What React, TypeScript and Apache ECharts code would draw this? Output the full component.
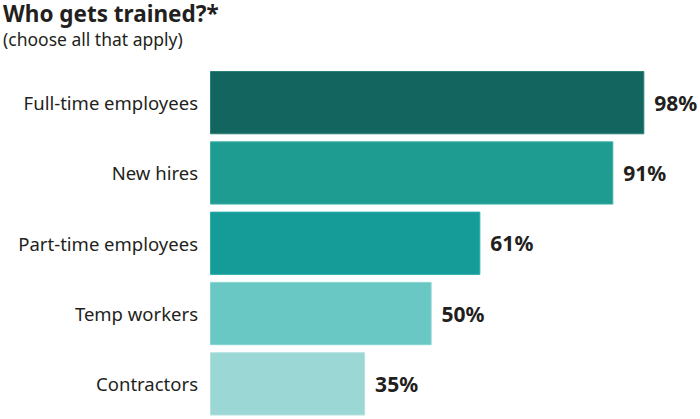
import React, { useEffect, useRef } from "react";
import * as echarts from "echarts";

const categories = ["Full-time employees", "New hires", "Part-time employees", "Temp workers", "Contractors"];
const values = [98, 91, 61, 50, 35];
const barColors = ["#12665f", "#1f9c92", "#159b98", "#69c8c4", "#9bd7d5"];
const borderColors = ["#2a8178", "#3fb0a6", "#2cb0ad", "#86d4d0", "#b2e1df"];

const FONT = "Noto Sans";

export default function App() {
  const ref = useRef<HTMLDivElement>(null);
  useEffect(() => {
    if (!ref.current) return;
    const chart = echarts.init(ref.current, null, { renderer: "svg" });
    chart.setOption({
      animation: false,
      backgroundColor: "#ffffff",
      graphic: [
        {
          type: "text",
          left: 3,
          top: 2,
          style: { text: "Who gets trained?*", fontFamily: FONT, fontSize: 22.5, fontWeight: "bold", fill: "#231f20" },
        },
        {
          type: "text",
          left: 3,
          top: 30,
          style: { text: "(choose all that apply)", fontFamily: FONT, fontSize: 17.5, fill: "#231f20" },
        },
      ],
      grid: { left: 210, top: 67.5, width: 443.2, height: 355 },
      xAxis: { type: "value", min: 0, max: 100, show: false },
      yAxis: {
        type: "category",
        data: categories,
        inverse: true,
        axisLine: { show: false },
        axisTick: { show: false },
        axisLabel: { margin: 12, fontFamily: FONT, fontSize: 18.5, color: "#231f20" },
      },
      series: [
        {
          type: "bar",
          barCategoryGap: "10%",
          data: values.map((v, i) => ({
            value: v,
            itemStyle: { color: barColors[i], borderColor: borderColors[i], borderWidth: 1 },
          })),
          label: {
            show: true,
            position: "right",
            distance: 10,
            formatter: "{c}%",
            fontFamily: FONT,
            fontSize: 21,
            fontWeight: "bold",
            color: "#231f20",
          },
        },
      ],
    });
    return () => chart.dispose();
  }, []);
  return <div ref={ref} style={{ width: 700, height: 419, position: "fixed", left: 0, top: 0 }} />;
}
